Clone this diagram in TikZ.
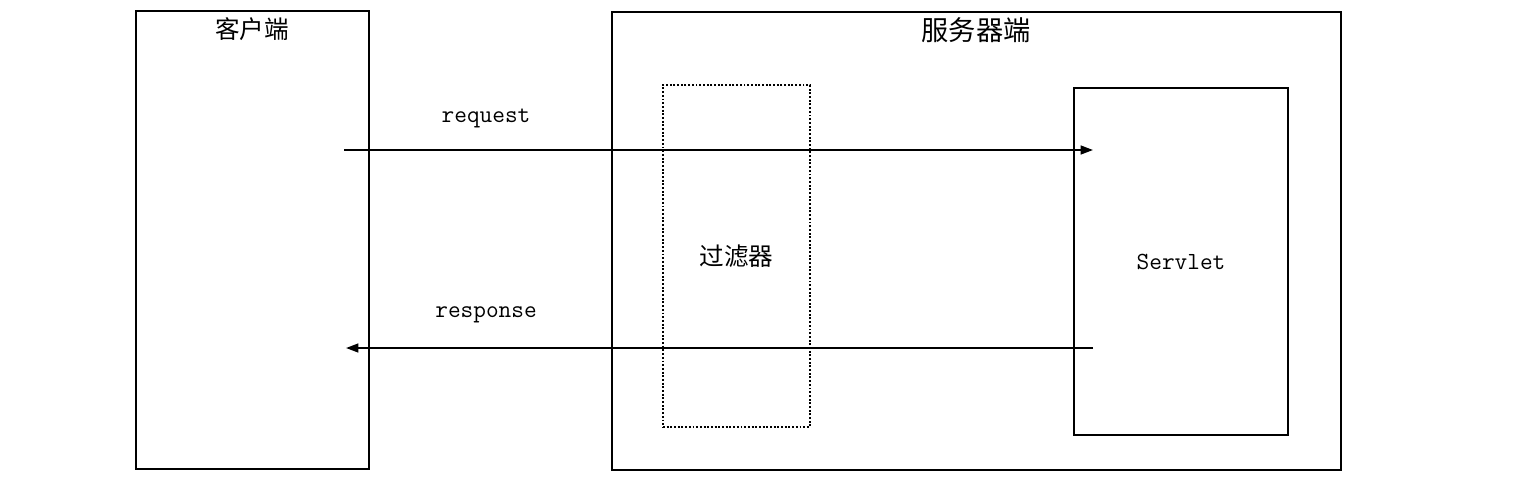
\documentclass[tikz,border=0pt]{standalone}
\usepackage{fontspec}
\newfontfamily\cjk{Noto Sans CJK SC}
\usetikzlibrary{arrows.meta}

\tikzset{
  box/.style={draw,line width=1.1pt,inner sep=0pt},
  flow/.style={line width=1.1pt,-{Triangle[length=7pt,width=5pt]}},
  word/.style={font=\fontsize{14pt}{16pt}\selectfont\ttfamily}
}

\begin{document}
\begin{tikzpicture}[x=0.02cm,y=-0.02cm]
        \useasboundingbox (0,0) rectangle (1517,481) ;
        % the two sides
        \node[box,minimum width=4.66cm,minimum height=9.16cm] (client) at (252.5,240) {} ;
        \node[box,minimum width=14.58cm,minimum height=9.16cm] (server) at (976.5,241) {} ;
        \node[font=\cjk\fontsize{14pt}{16pt}\selectfont] (clienttitle) at (252,29) {客户端} ;
        \node[font=\cjk\fontsize{15.5pt}{17pt}\selectfont] (servertitle) at (976,30) {服务器端} ;
        % filter and servlet
        \node[box,densely dotted,line width=0.9pt,minimum width=2.94cm,minimum height=6.84cm,
          font=\cjk\fontsize{14pt}{16pt}\selectfont] (filter) at (736.5,256) {过滤器} ;
        \node[box,minimum width=4.28cm,minimum height=6.94cm,word] (servlet) at (1181,261.5) {Servlet} ;
        % request / response
        \coordinate (reqfrom) at (344,150) ;
        \coordinate (reqto) at (1093,150) ;
        \coordinate (resfrom) at (1093,348) ;
        \coordinate (resto) at (346,348) ;
        \draw[flow] (reqfrom) -- (reqto) ;
        \draw[flow] (resfrom) -- (resto) ;
        \node[word] (reqlabel) at (486,118) {request} ;
        \node[word] (reslabel) at (486,315) {response} ;
      \end{tikzpicture}
\end{document}
